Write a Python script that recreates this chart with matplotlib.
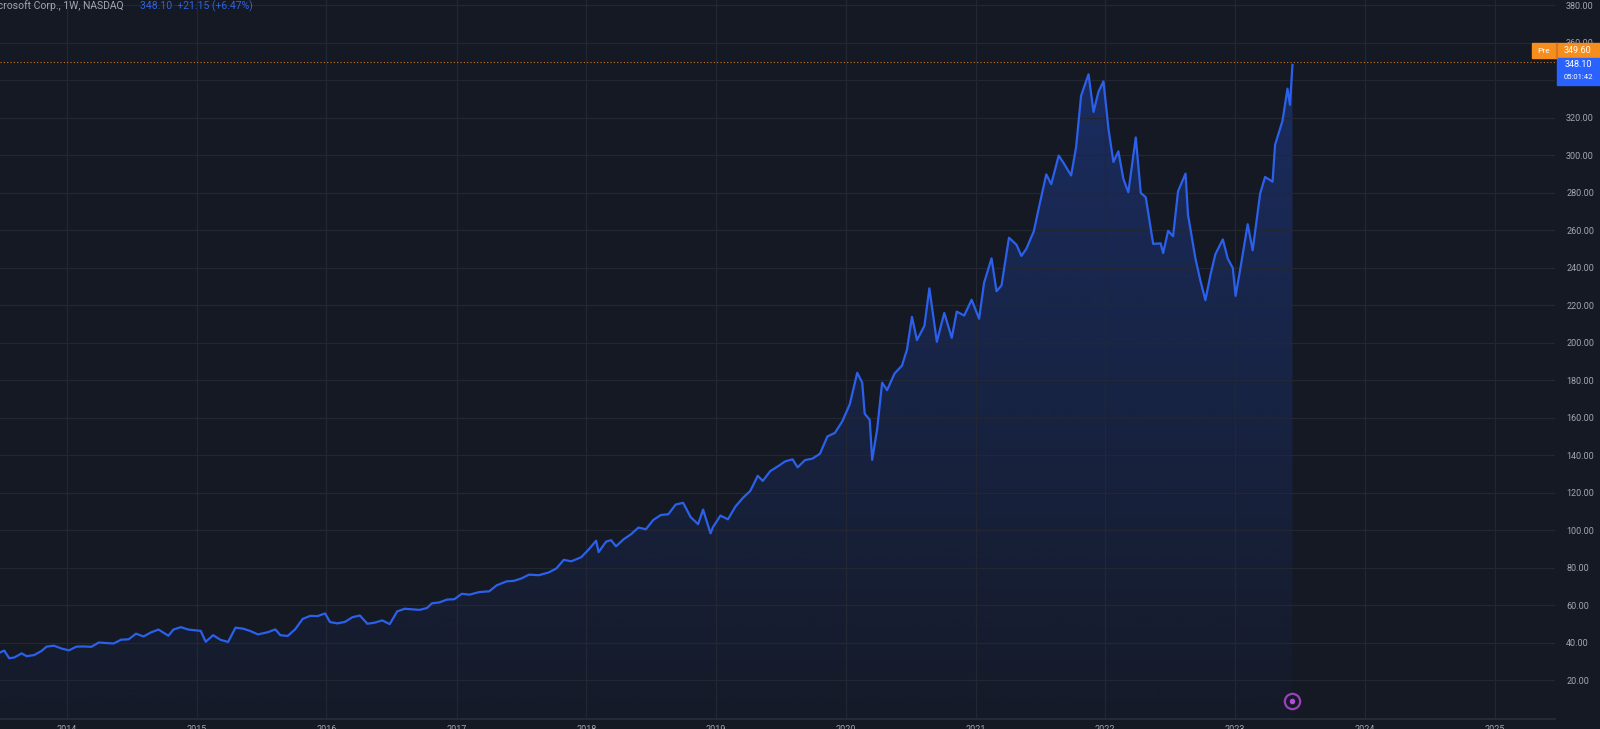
import numpy as np
import pandas as pd
import matplotlib
matplotlib.use("Agg")
import matplotlib.pyplot as plt
import matplotlib.dates as mdates
from matplotlib.patches import Rectangle
from matplotlib.transforms import IdentityTransform, blended_transform_factory

# MSFT weekly closes
dates = [
    "2013-06-03", "2013-06-24", "2013-07-08", "2013-07-22", "2013-08-05", "2013-08-26", "2013-09-09",
    "2013-09-30", "2013-10-21", "2013-11-04", "2013-11-25", "2013-12-16", "2014-01-06", "2014-01-27",
    "2014-02-17", "2014-03-10", "2014-03-31", "2014-04-21", "2014-05-12", "2014-06-02", "2014-06-23",
    "2014-07-14", "2014-08-04", "2014-08-25", "2014-09-15", "2014-10-13", "2014-10-27", "2014-11-17",
    "2014-12-08", "2014-12-29", "2015-01-12", "2015-01-26", "2015-02-16", "2015-03-09", "2015-03-30",
    "2015-04-20", "2015-05-11", "2015-06-01", "2015-06-22", "2015-07-20", "2015-08-10", "2015-08-24",
    "2015-09-14", "2015-10-05", "2015-10-26", "2015-11-16", "2015-12-07", "2015-12-28", "2016-01-11",
    "2016-02-01", "2016-02-22", "2016-03-14", "2016-04-04", "2016-04-25", "2016-05-16", "2016-06-06",
    "2016-06-27", "2016-07-18", "2016-08-08", "2016-08-29", "2016-09-19", "2016-10-10", "2016-10-24",
    "2016-11-14", "2016-12-05", "2016-12-26", "2017-01-16", "2017-02-06", "2017-03-06", "2017-04-03",
    "2017-04-24", "2017-05-22", "2017-06-12", "2017-07-03", "2017-07-24", "2017-08-21", "2017-09-18",
    "2017-10-09", "2017-10-30", "2017-11-20", "2017-12-18", "2018-01-08", "2018-01-29", "2018-02-05",
    "2018-02-26", "2018-03-12", "2018-03-26", "2018-04-16", "2018-05-07", "2018-05-28", "2018-06-18",
    "2018-07-09", "2018-07-30", "2018-08-20", "2018-09-10", "2018-10-01", "2018-10-22", "2018-11-12",
    "2018-11-26", "2018-12-17", "2018-12-24", "2019-01-14", "2019-02-04", "2019-02-25", "2019-03-18",
    "2019-04-08", "2019-04-29", "2019-05-13", "2019-06-03", "2019-06-24", "2019-07-15", "2019-08-05",
    "2019-08-19", "2019-09-09", "2019-09-30", "2019-10-21", "2019-11-11", "2019-12-02", "2019-12-23",
    "2020-01-13", "2020-02-03", "2020-02-17", "2020-02-24", "2020-03-09", "2020-03-16", "2020-03-30",
    "2020-04-13", "2020-04-27", "2020-05-18", "2020-06-08", "2020-06-22", "2020-07-06", "2020-07-20",
    "2020-08-10", "2020-08-24", "2020-09-14", "2020-10-05", "2020-10-26", "2020-11-09", "2020-11-30",
    "2020-12-21", "2021-01-11", "2021-01-25", "2021-02-15", "2021-03-01", "2021-03-15", "2021-04-05",
    "2021-04-26", "2021-05-10", "2021-05-24", "2021-06-14", "2021-06-28", "2021-07-19", "2021-08-02",
    "2021-08-23", "2021-09-06", "2021-09-27", "2021-10-11", "2021-10-25", "2021-11-15", "2021-11-29",
    "2021-12-13", "2021-12-27", "2022-01-10", "2022-01-24", "2022-02-07", "2022-02-21", "2022-03-07",
    "2022-03-28", "2022-04-11", "2022-04-25", "2022-05-09", "2022-05-16", "2022-06-06", "2022-06-13",
    "2022-06-27", "2022-07-11", "2022-07-25", "2022-08-15", "2022-08-22", "2022-09-12", "2022-09-26",
    "2022-10-10", "2022-10-24", "2022-11-07", "2022-11-28", "2022-12-12", "2022-12-26", "2023-01-03",
    "2023-01-17", "2023-02-06", "2023-02-20", "2023-03-13", "2023-03-27", "2023-04-17", "2023-04-24",
    "2023-05-15", "2023-05-29", "2023-06-05", "2023-06-12",
]
closes = [
    34.9, 34.5, 35.7, 31.6, 32.0, 34.2, 32.7,
    33.3, 35.5, 37.8, 38.3, 36.8, 35.8, 37.8,
    37.9, 37.7, 40.0, 39.7, 39.5, 41.5, 41.7,
    44.7, 43.2, 45.4, 46.9, 43.6, 46.9, 48.2,
    46.9, 46.5, 46.2, 40.4, 43.9, 41.4, 40.3,
    47.9, 47.4, 46.1, 44.3, 45.5, 47.0, 43.9,
    43.5, 47.1, 52.6, 54.2, 54.1, 55.5, 50.9,
    50.2, 51.0, 53.5, 54.4, 50.0, 50.6, 51.8,
    49.8, 56.6, 58.0, 57.7, 57.4, 58.4, 60.9,
    61.4, 62.9, 63.1, 66.0, 65.5, 66.9, 67.3,
    70.5, 72.6, 72.9, 74.2, 76.2, 75.9, 77.4,
    79.5, 84.1, 83.3, 85.5, 89.6, 94.3, 88.2,
    93.8, 94.6, 91.3, 95.0, 97.7, 101.3, 100.4,
    105.4, 108.0, 108.4, 113.6, 114.5, 106.9, 103.1,
    110.9, 98.2, 101.6, 107.7, 105.7, 112.5, 117.1,
    120.9, 128.9, 126.2, 131.4, 133.9, 136.6, 137.7,
    133.4, 137.3, 138.1, 140.7, 149.9, 151.8, 158.0,
    167.1, 183.9, 178.6, 162.0, 158.8, 137.4, 153.8,
    178.6, 174.6, 183.5, 187.7, 196.3, 213.7, 201.3,
    208.9, 228.9, 200.4, 215.8, 202.5, 216.5, 214.4,
    222.8, 212.7, 231.9, 244.9, 227.4, 230.4, 255.9,
    252.2, 246.2, 250.0, 259.4, 271.7, 289.7, 284.5,
    299.7, 295.7, 289.1, 304.2, 331.6, 343.1, 323.0,
    333.8, 339.3, 314.2, 296.3, 302.0, 287.3, 280.1,
    309.4, 279.8, 277.5, 261.1, 252.6, 252.9, 247.7,
    259.6, 256.7, 280.7, 290.1, 268.1, 244.7, 232.9,
    222.6, 235.9, 247.1, 255.0, 244.7, 239.8, 224.9,
    240.2, 263.1, 249.2, 279.4, 288.3, 285.8, 305.4,
    318.3, 335.4, 326.8, 348.1,
]
year_ticks = list(range(2014, 2026))
price_ticks = list(range(20, 400, 20))
pre_price = 349.6
event_dates = ["2023-06-12"]
title_left = "Microsoft Corp., 1W, NASDAQ"
title_quote = "348.10  +21.15 (+6.47%)"
countdown = "05:01:42"

bg = "#151924"
grid_c = "#232733"
text_c = "#a3a6af"
line_c = "#2962ff"
orange = "#f68e1f"

plt.rcParams["font.family"] = ["Roboto", "DejaVu Sans"]

x = pd.to_datetime(dates)
y = np.array(closes)

fig = plt.figure(figsize=(16, 7.29), dpi=100, facecolor=bg)
W, H = 1600, 729
ax = fig.add_axes([0, 10 / H, 1555 / W, 719 / H])
ax.set_facecolor(bg)

ax.set_xlim(pd.Timestamp("2013-06-26"), pd.Timestamp("2025-06-20"))
ax.set_ylim(-0.8, 382.7)

# gradient area under the line
poly = ax.fill_between(x, y, -10, facecolor="none", edgecolor="none")
grad = np.zeros((256, 2, 4))
grad[..., :3] = matplotlib.colors.to_rgb(line_c)
grad[..., 3] = np.linspace(0.30, 0.02, 256)[:, None]
im = ax.imshow(grad, extent=[0, 1, 0, 1], transform=ax.transAxes,
               aspect="auto", zorder=1, interpolation="bicubic")
im.set_clip_path(poly.get_paths()[0], transform=ax.transData)

ax.plot(x, y, color="#2b60ea", lw=1.6, zorder=3)

# grid and scales
ax.set_yticks(price_ticks)
ax.set_yticklabels([f"{v:.2f}" for v in price_ticks])
ax.set_xticks(pd.to_datetime([f"{yr}-01-01" for yr in year_ticks]))
ax.xaxis.set_major_formatter(mdates.DateFormatter("%Y"))
ax.grid(True, color=grid_c, lw=0.9, zorder=0)
ax.yaxis.tick_right()
ax.tick_params(axis="y", length=0, pad=8, labelsize=6.5, labelcolor=text_c)
ax.tick_params(axis="x", length=0, pad=4, labelsize=6.5, labelcolor=text_c)
for v, lab in zip(price_ticks, ax.get_yticklabels()):
    lab.set_horizontalalignment("left")
    if v == 340:  # hidden under the last-price tag
        lab.set_visible(False)
for s in ["top", "right", "left"]:
    ax.spines[s].set_visible(False)
ax.spines["bottom"].set_color("#2a2e39")
ax.spines["bottom"].set_linewidth(1.2)

# pre-market price line
ax.axhline(pre_price, color=orange, lw=0.8, ls=(0, (1, 2)), zorder=4, alpha=0.8)

# event marker on the time axis
bt = blended_transform_factory(ax.transData, ax.transAxes)
for d in event_dates:
    ax.plot([pd.Timestamp(d)], [0.0255], transform=bt, marker="o", ms=11,
            mfc="none", mec="#9c3fc0", mew=1.6, clip_on=False, zorder=6)
    ax.plot([pd.Timestamp(d)], [0.0255], transform=bt, marker="o", ms=4,
            mfc="#b04fd6", mec="none", clip_on=False, zorder=6)

# header text
fig.text(-14 / W, 1 - 6 / H, title_left, color=text_c, fontsize=7.5, va="center", ha="left")
fig.text(140 / W, 1 - 6 / H, title_quote, color="#2f62e0", fontsize=7.5, va="center", ha="left")

# price tags on the scale
fig.canvas.draw()
py_pre = ax.transData.transform((0, pre_price))[1]
py_last = ax.transData.transform((0, closes[-1]))[1]
ident = IdentityTransform()
fig.add_artist(Rectangle((1532, py_pre + 4), 68, 15, transform=ident, color=orange, zorder=10))
fig.add_artist(Rectangle((1556, py_pre + 4), 1, 15, transform=ident, color="#d9781a", zorder=11))
fig.text(1544 / W, (py_pre + 11.5) / H, "Pre", color="white", fontsize=6, ha="center", va="center", zorder=12)
fig.text(1578 / W, (py_pre + 11.5) / H, f"{pre_price:.2f}", color="white", fontsize=6.5,
         ha="center", va="center", zorder=12)
fig.add_artist(Rectangle((1557, py_last - 20), 43, 27, transform=ident, color="#2962ff", zorder=10))
fig.text(1578 / W, (py_last + 0.5) / H, f"{closes[-1]:.2f}", color="white", fontsize=6.5,
         ha="center", va="center", zorder=12)
fig.text(1578 / W, (py_last - 12.5) / H, countdown, color="white", fontsize=5.5,
         ha="center", va="center", zorder=12)

fig.savefig("out.png", dpi=100, facecolor=bg)
